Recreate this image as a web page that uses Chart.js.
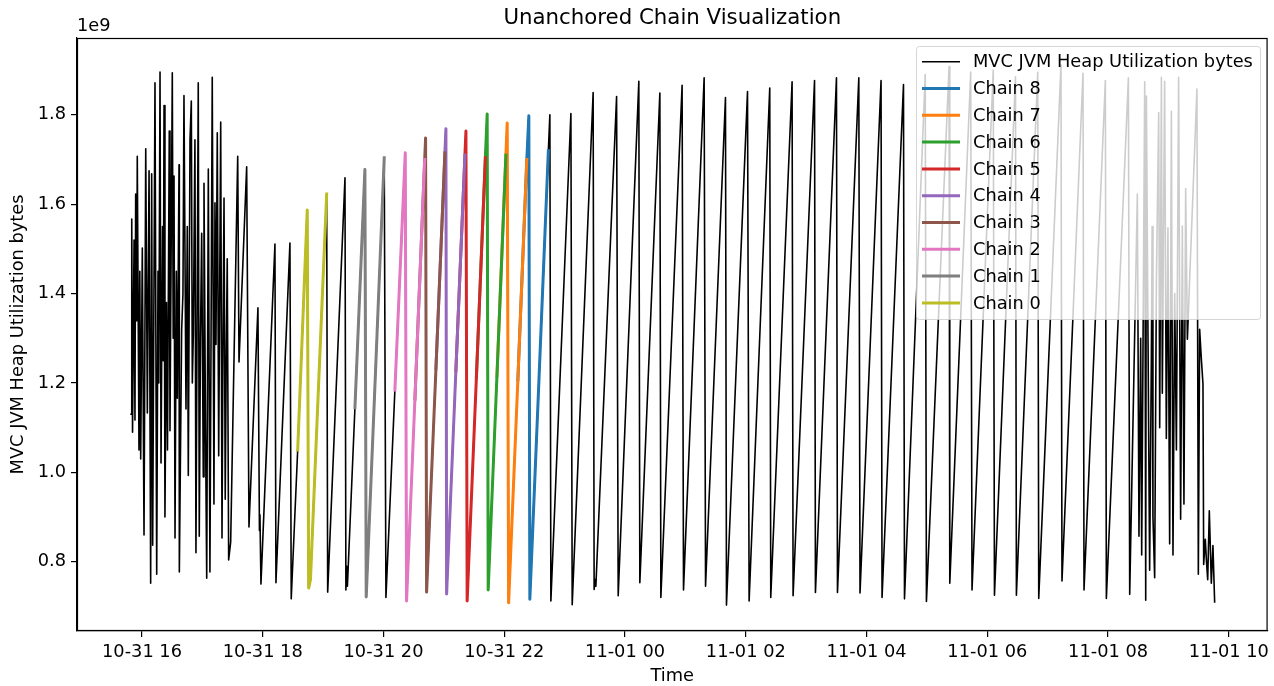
<!DOCTYPE html>
<html>
<head>
<meta charset="utf-8">
<script src="https://cdn.jsdelivr.net/npm/chart.js@4.4.1/dist/chart.umd.min.js"></script>
<style>
  html, body { margin: 0; padding: 0; background: #ffffff; }
  canvas { display: block; }
</style>
</head>
<body>
<canvas id="c" width="1274" height="686"></canvas>
<script>
// Heap samples: minutes after 10-31 00:00 and heap utilization in units of 1e9 bytes
const sampleMinutes = [
  949.1, 949.8, 950.6, 952.1, 953.0, 953.7, 954.7, 955.3, 957.0, 957.8, 958.7, 960.3,
  962.0, 963.7, 965.3, 967.0, 968.6, 969.6, 970.6, 972.9, 974.6, 975.9, 976.7, 977.9,
  978.9, 980.4, 981.1, 981.9, 982.8, 984.3, 985.3, 987.1, 987.8, 990.1, 991.0, 991.8,
  992.8, 994.1, 995.1, 996.8, 997.1, 999.4, 1000.7, 1001.7, 1003.7, 1005.0, 1006.0, 1007.7,
  1009.0, 1010.0, 1011.0, 1012.6, 1013.6, 1015.9, 1016.9, 1018.1, 1019.3, 1020.9, 1021.6, 1023.1,
  1024.3, 1025.9, 1027.5, 1028.7, 1029.8, 1031.5, 1032.5, 1033.5, 1034.8, 1036.2, 1038.2, 1039.5,
  1040.5, 1041.5, 1042.7, 1043.7, 1044.7, 1046.1, 1048.1, 1055.1, 1056.4, 1064.0, 1066.3, 1075.2,
  1076.7, 1077.2, 1078.2, 1092.1, 1093.1, 1107.0, 1108.3, 1114.7, 1124.2, 1125.6, 1127.4, 1134.8,
  1143.5, 1144.5, 1161.7, 1162.6, 1163.4, 1164.1, 1171.6, 1181.5, 1182.8, 1192.0, 1200.7, 1202.4,
  1211.3, 1221.6, 1222.9, 1231.2, 1240.9, 1241.8, 1242.8, 1252.1, 1261.0, 1262.0, 1262.7, 1271.9,
  1280.9, 1281.9, 1283.1, 1292.3, 1301.2, 1303.0, 1304.0, 1312.7, 1321.6, 1322.9, 1324.3, 1333.5,
  1342.4, 1344.4, 1345.4, 1354.4, 1363.8, 1365.3, 1366.3, 1386.2, 1387.5, 1408.3, 1409.3, 1410.2,
  1411.0, 1431.6, 1433.2, 1453.7, 1454.7, 1474.6, 1475.6, 1496.7, 1498.1, 1518.6, 1520.0, 1539.8,
  1540.8, 1561.7, 1563.3, 1583.8, 1584.8, 1606.0, 1607.0, 1628.3, 1629.2, 1650.1, 1651.1, 1672.3,
  1673.5, 1694.4, 1695.4, 1716.7, 1717.7, 1738.3, 1739.5, 1762.0, 1762.7, 1783.5, 1784.8, 1805.9,
  1807.1, 1828.0, 1828.9, 1850.1, 1851.1, 1873.2, 1874.2, 1895.1, 1896.1, 1917.3, 1918.3, 1940.2,
  1941.5, 1949.1, 1950.7, 1952.4, 1953.4, 1956.4, 1957.4, 1958.1, 1959.7, 1961.3, 1963.0, 1963.8,
  1964.6, 1966.3, 1968.0, 1970.3, 1971.3, 1973.0, 1973.9, 1976.2, 1977.9, 1979.5, 1981.2, 1982.9,
  1984.5, 1986.2, 1987.9, 1990.1, 1992.1, 1993.8, 1995.4, 1997.1, 1998.8, 2008.3, 2009.7, 2011.0,
  2012.7, 2014.3, 2015.0, 2016.6, 2017.8, 2019.0, 2020.6, 2022.6, 2024.2, 2025.9
];
const heapValues = [
  1.13, 1.567, 1.09, 1.52, 1.117, 1.623, 1.339, 1.707, 1.05, 1.45, 1.03, 1.502,
  0.86, 1.724, 1.133, 1.675, 0.752, 1.668, 0.837, 1.872, 0.772, 1.45, 1.20, 1.896,
  1.021, 1.55, 1.25, 1.821, 0.90, 1.38, 1.05, 1.764, 1.093, 1.894, 1.30, 1.663,
  0.853, 1.45, 1.166, 1.688, 0.777, 1.319, 1.40, 1.843, 1.142, 1.55, 0.993, 1.744,
  1.831, 1.20, 1.31, 1.744, 0.82, 1.872, 0.857, 1.30, 1.535, 0.99, 1.647, 1.10,
  0.763, 1.679, 0.777, 1.35, 1.884, 0.929, 1.603, 1.286, 1.76, 1.037, 1.784, 0.853,
  1.30, 1.614, 0.94, 1.25, 1.478, 0.804, 0.844, 1.707, 1.247, 1.684, 0.878, 1.368,
  0.87, 0.905, 0.75, 1.511, 0.753, 1.513, 0.717, 1.05, 1.587, 0.741, 0.76, 1.16,
  1.623, 0.732, 1.659, 0.737, 0.79, 0.745, 1.145, 1.678, 0.721, 1.223, 1.704, 0.72,
  1.184, 1.715, 0.712, 1.164, 1.70, 1.748, 0.732, 1.232, 1.715, 1.769, 0.728, 1.227,
  1.71, 1.764, 0.712, 1.213, 1.704, 1.802, 0.737, 1.215, 1.71, 1.782, 0.708, 1.207,
  1.70, 1.798, 0.716, 1.204, 1.72, 1.80, 0.712, 1.803, 0.704, 1.85, 0.738, 0.76,
  0.745, 1.841, 0.724, 1.875, 0.753, 1.849, 0.72, 1.866, 0.737, 1.883, 0.745, 1.839,
  0.703, 1.852, 0.712, 1.86, 0.72, 1.874, 0.724, 1.877, 0.731, 1.883, 0.731, 1.883,
  0.73, 1.877, 0.72, 1.868, 0.717, 1.89, 0.711, 1.908, 0.752, 1.896, 0.737, 1.90,
  0.725, 1.885, 0.725, 1.895, 0.718, 1.912, 0.757, 1.893, 0.737, 1.877, 0.718, 1.883,
  0.727, 1.623, 0.857, 1.30, 0.815, 1.874, 0.714, 1.842, 1.294, 0.781, 1.253, 1.55,
  0.90, 0.764, 1.425, 1.805, 1.10, 1.884, 1.177, 1.875, 1.076, 1.547, 0.84, 1.808,
  0.815, 1.40, 1.05, 1.884, 0.895, 1.551, 0.929, 1.635, 1.298, 1.858, 0.772, 1.32,
  1.253, 1.198, 0.794, 0.85, 0.80, 0.76, 0.914, 0.752, 0.836, 0.71
];

// Chains: time windows (minutes) over the heap series, highlighted on top of it
const chainNames  = ['Chain 0', 'Chain 1', 'Chain 2', 'Chain 3', 'Chain 4', 'Chain 5', 'Chain 6', 'Chain 7', 'Chain 8'];
const chainStart  = [1114.7, 1171.6, 1211.3, 1231.2, 1252.1, 1271.9, 1292.3, 1312.7, 1333.5];
const chainEnd    = [1143.5, 1200.7, 1240.9, 1261.0, 1280.9, 1301.2, 1321.6, 1342.4, 1363.8];
const chainColors = ['#bcbd22', '#7f7f7f', '#e377c2', '#8c564b', '#9467bd', '#d62728', '#2ca02c', '#ff7f0e', '#1f77b4'];

// Axis ticks
const xTickMinutes = [960, 1080, 1200, 1320, 1440, 1560, 1680, 1800, 1920, 2040];
const xTickLabels  = ['10-31 16', '10-31 18', '10-31 20', '10-31 22', '11-01 00',
                      '11-01 02', '11-01 04', '11-01 06', '11-01 08', '11-01 10'];
const yTickValues  = [0.8, 1.0, 1.2, 1.4, 1.6, 1.8];

const titleText = 'Unanchored Chain Visualization';
const seriesName = 'MVC JVM Heap Utilization bytes';
const xTitle = 'Time';
const yTitle = 'MVC JVM Heap Utilization bytes';
const yOffsetText = '1e9';

const FONT = '"DejaVu Sans", "Liberation Sans", sans-serif';
const LABEL_PX = 17.8;
const TITLE_PX = 21.3;
Chart.defaults.font.family = FONT;
Chart.defaults.font.size = LABEL_PX;
Chart.defaults.color = '#000';

const heapPoints = sampleMinutes.map((m, i) => ({ x: m, y: heapValues[i] }));

const chainSets = chainNames.map((name, k) => ({
  label: name,
  data: heapPoints.filter(p => p.x >= chainStart[k] - 0.01 && p.x <= chainEnd[k] + 0.01),
  borderColor: chainColors[k],
  backgroundColor: chainColors[k],
  borderWidth: 3.0,
  borderJoinStyle: 'round',
  borderCapStyle: 'square',
  pointRadius: 0,
  tension: 0,
  fill: false
}));

const heapSet = {
  label: seriesName,
  data: heapPoints,
  borderColor: '#000000',
  backgroundColor: '#000000',
  borderWidth: 1.6,
  borderJoinStyle: 'round',
  borderCapStyle: 'square',
  pointRadius: 0,
  tension: 0,
  fill: false
};

// Chart.js paints dataset 0 last, so chains go first (Chain 0 on top) and the heap line last (underneath)
const datasets = chainSets.concat([heapSet]);

const decor = {
  id: 'decor',
  afterDraw(chart) {
    const ctx = chart.ctx;
    const a = chart.chartArea;
    ctx.save();

    // axes frame
    ctx.strokeStyle = '#000';
    ctx.lineWidth = 1.2;
    ctx.strokeRect(a.left + 0.5, a.top + 0.5, a.right - a.left - 1, a.bottom - a.top - 1);

    // title and axis titles
    ctx.fillStyle = '#000';
    ctx.textAlign = 'center';
    ctx.textBaseline = 'middle';
    ctx.font = TITLE_PX + 'px ' + FONT;
    ctx.fillText(titleText, (a.left + a.right) / 2, 18);
    ctx.font = LABEL_PX + 'px ' + FONT;
    ctx.fillText(xTitle, (a.left + a.right) / 2, 676);

    ctx.save();
    ctx.translate(18, (a.top + a.bottom) / 2);
    ctx.rotate(-Math.PI / 2);
    ctx.fillText(yTitle, 0, 0);
    ctx.restore();

    ctx.textAlign = 'left';
    ctx.fillText(yOffsetText, a.left, 26);

    // legend
    const order = [chart.data.datasets.length - 1];
    for (let i = chart.data.datasets.length - 2; i >= 0; i--) order.push(i);
    const bx = 916, by = 46, bw = 344, bh = 273;
    ctx.beginPath();
    ctx.roundRect(bx + 0.5, by + 0.5, bw, bh, 3);
    ctx.fillStyle = 'rgba(255,255,255,0.8)';
    ctx.fill();
    ctx.strokeStyle = 'rgba(204,204,204,0.8)';
    ctx.lineWidth = 1;
    ctx.stroke();

    ctx.textBaseline = 'middle';
    ctx.textAlign = 'left';
    order.forEach((di, row) => {
      const ds = chart.data.datasets[di];
      const y = 61.7 + row * 26.8;
      ctx.beginPath();
      ctx.moveTo(922, y);
      ctx.lineTo(960, y);
      ctx.strokeStyle = ds.borderColor;
      ctx.lineWidth = ds.borderWidth;
      ctx.lineCap = 'butt';
      ctx.stroke();
      ctx.fillStyle = '#000';
      ctx.font = LABEL_PX + 'px ' + FONT;
      ctx.fillText(ds.label, 973, y + 1);
    });

    ctx.restore();
  }
};

new Chart(document.getElementById('c'), {
  type: 'line',
  data: { datasets },
  options: {
    responsive: false,
    animation: false,
    devicePixelRatio: 1,
    parsing: false,
    normalized: true,
    layout: { padding: { top: 38, right: 6, left: 0, bottom: 0 } },
    plugins: {
      legend: { display: false },
      title: { display: false },
      tooltip: { enabled: false }
    },
    scales: {
      x: {
        type: 'linear',
        min: 895.4,
        max: 2078.5,
        afterBuildTicks: s => { s.ticks = xTickMinutes.map(v => ({ value: v })); },
        afterFit: s => { s.height = 55; },
        ticks: {
          autoSkip: false,
          maxRotation: 0,
          minRotation: 0,
          padding: 5,
          color: '#000',
          font: { size: LABEL_PX },
          callback: (v, i) => xTickLabels[i]
        },
        grid: { drawOnChartArea: false, drawTicks: true, tickLength: 6, color: '#000', lineWidth: 1.2 },
        border: { display: true, color: '#000', width: 1.2 }
      },
      y: {
        type: 'linear',
        min: 0.645,
        max: 1.972,
        afterBuildTicks: s => { s.ticks = yTickValues.map(v => ({ value: v })); },
        afterFit: s => { s.width = 77; },
        ticks: {
          padding: 5,
          color: '#000',
          font: { size: LABEL_PX },
          callback: v => Number(v).toFixed(1)
        },
        grid: { drawOnChartArea: false, drawTicks: true, tickLength: 6, color: '#000', lineWidth: 1.2 },
        border: { display: true, color: '#000', width: 1.2 }
      }
    }
  },
  plugins: [decor]
});
</script>
</body>
</html>
